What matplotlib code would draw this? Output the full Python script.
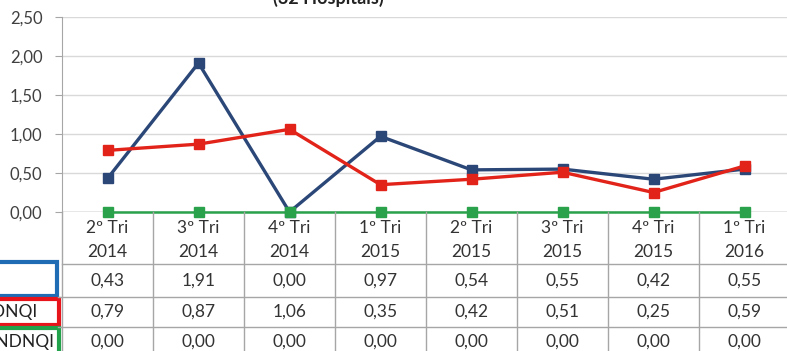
import matplotlib.pyplot as plt
from matplotlib.patches import Rectangle

plt.rcParams['font.family'] = ['Lato', 'DejaVu Sans']

# Trimestres e valores das três séries
trimestres = ['2º Tri', '3º Tri', '4º Tri', '1º Tri', '2º Tri', '3º Tri', '4º Tri', '1º Tri']
anos = ['2014', '2014', '2014', '2015', '2015', '2015', '2015', '2016']
hospital = [0.43, 1.91, 0.00, 0.97, 0.54, 0.55, 0.42, 0.55]
media_ndnqi = [0.79, 0.87, 1.06, 0.35, 0.42, 0.51, 0.25, 0.59]
meta_ndnqi = [0.00, 0.00, 0.00, 0.00, 0.00, 0.00, 0.00, 0.00]

series = [hospital, media_ndnqi, meta_ndnqi]
cores = ['#2b4778', '#e2231a', '#2aa24c']
espessuras = [2.4, 2.4, 1.8]
caixas = ['#1f6cb5', '#e8141c', '#22a24a']
rotulos = ['', 'Média NDNQI', 'Percentil NDNQI']

W, H = 787, 351
fig = plt.figure(figsize=(W / 100, H / 100), dpi=100)

def px(x0, y0, x1, y1):
    # retângulo em pixels (origem no topo) -> coordenadas da figura
    return [x0 / W, 1 - y1 / H, (x1 - x0) / W, (y1 - y0) / H]

n = len(trimestres)
xs = [i + 0.5 for i in range(n)]
cor_texto = '#333333'
fs = 12.5

# Gráfico de linhas
ax = fig.add_axes(px(62, 17, 790, 212))
ax.set_xlim(0, n)
ax.set_ylim(0, 2.5)
ax.set_yticks([0, 0.5, 1.0, 1.5, 2.0, 2.5])
ax.set_yticklabels([f'{v:.2f}'.replace('.', ',') for v in ax.get_yticks()])
ax.set_xticks([])
ax.grid(axis='y', color='#d9d9d9', lw=1)
ax.set_axisbelow(True)
for s in ['top', 'right', 'bottom']:
    ax.spines[s].set_visible(False)
ax.spines['left'].set_color('#a6a6a6')
ax.tick_params(axis='y', length=5, color='#a6a6a6', labelsize=12, labelcolor='#404040', pad=9)
for vals, c, lw in zip(series, cores, espessuras):
    ax.plot(xs, vals, color=c, lw=lw, marker='s', ms=7.5, clip_on=False, zorder=3)
ax.axhline(0, color='#a6a6a6', lw=1, zorder=1)

fig.text(328 / W, 1 - 4 / H, '(32 Hospitais)', ha='center', va='baseline',
         fontsize=13, fontweight='bold', color='#222222')

# Tabela de dados
tb = fig.add_axes(px(62, 212, 790, 357))
tb.set_xlim(0, n)
tb.set_ylim(357, 212)
tb.axis('off')
grade = '#a6a6a6'
for y in [264, 297, 327]:
    tb.plot([0, n], [y, y], color=grade, lw=1, clip_on=False)
for i in range(n + 1):
    tb.plot([i, i], [212, 357], color=grade, lw=1, clip_on=False)
for i in range(n):
    tb.text(xs[i], 228, trimestres[i], ha='center', va='center', fontsize=fs, color=cor_texto)
    tb.text(xs[i], 252, anos[i], ha='center', va='center', fontsize=fs, color=cor_texto)
    for vals, y in zip(series, [281, 312, 342]):
        tb.text(xs[i], y, f'{vals[i]:.2f}'.replace('.', ','), ha='center', va='center',
                fontsize=fs, color=cor_texto)

# Caixas da legenda à esquerda
lg = fig.add_axes(px(0, 212, 62, 357))
lg.set_xlim(0, 62)
lg.set_ylim(357, 212)
lg.axis('off')
for y in [297, 327]:
    lg.plot([58, 62], [y, y], color=grade, lw=1)
for (y0, y1, x1), c in zip([(262, 296, 57), (299, 325, 59), (328, 362, 59)], caixas):
    lg.add_patch(Rectangle((-6, y0), x1 + 6, y1 - y0, fill=False, ec=c, lw=3, clip_on=False))
lg.text(37, 312, rotulos[1], ha='right', va='center', fontsize=fs, color='#222222', clip_on=False)
lg.text(54, 342, rotulos[2], ha='right', va='center', fontsize=fs, color='#222222', clip_on=False)

fig.savefig('out.png', dpi=100)
